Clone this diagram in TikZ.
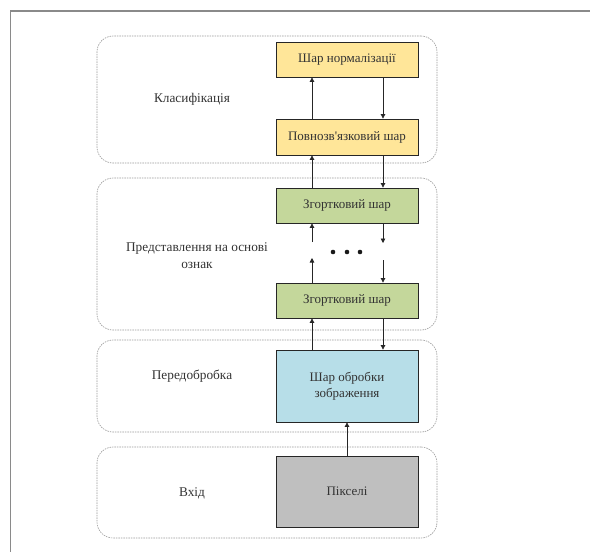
\documentclass[tikz,border=0pt]{standalone}
\usepackage{fontspec}
\setmainfont{Liberation Serif}
\usetikzlibrary{arrows.meta}
\definecolor{yel}{HTML}{FFE699}
\definecolor{grn}{HTML}{C4D79B}
\definecolor{blu}{HTML}{B7DEE8}
\definecolor{gry}{HTML}{BFBFBF}
\definecolor{txt}{HTML}{333333}
\definecolor{frame}{HTML}{8A8A8A}
\definecolor{grp}{HTML}{9A9A9A}
\tikzset{
  layerbox/.style={draw=black!85, line width=0.8pt, minimum width=142pt, text=txt, align=center, font=\fontsize{13}{16}\selectfont, inner sep=2pt},
  groupbox/.style={draw=grp, line width=0.6pt, dash pattern=on 1.5pt off 1pt, rounded corners=16pt, minimum width=340pt},
  grplabel/.style={text=txt, align=center, font=\fontsize{13.3}{17}\selectfont},
  arr/.style={draw=black!85, line width=0.7pt, -{Triangle[length=4.5pt,width=4.5pt]}},
}
\begin{document}
\begin{tikzpicture}[x=1pt,y=-1pt]
\useasboundingbox (0,0) rectangle (590,552);
\fill[white] (0,0) rectangle (590,552);
% frame
\draw[frame, line width=1.6pt] (10.5,552) -- (10.5,11) -- (590,11);
% groups
\node[groupbox, minimum height=127pt] (g1) at (267,99.5) {};
\node[groupbox, minimum height=152pt] (g2) at (267,254) {};
\node[groupbox, minimum height=92pt] (g3) at (267,386) {};
\node[groupbox, minimum height=91pt] (g4) at (267,492.5) {};
% labels
\node[grplabel] (l1) at (192,99) {Класифікація};
\node[grplabel] (l2) at (197,256) {Представлення на основі\\ознак};
\node[grplabel] (l3) at (192,376) {Передобробка};
\node[grplabel] (l4) at (192,493) {Вхід};
% layers
\node[layerbox, fill=yel, minimum height=35pt] (norm) at (347,59.5) {Шар нормалізації};
\node[layerbox, fill=yel, minimum height=36pt] (fc) at (347,137) {Повнозв\textquotesingle язковий шар};
\node[layerbox, fill=grn, minimum height=35pt] (cv1) at (347,205.5) {Згортковий шар};
\node[layerbox, fill=grn, minimum height=35pt] (cv2) at (347,300.5) {Згортковий шар};
\node[layerbox, fill=blu, minimum height=72pt] (pre) at (347,386) {Шар обробки\\зображення};
\node[layerbox, fill=gry, minimum height=71pt] (pix) at (347,491.5) {Пікселі};
% helper coordinates
\coordinate (ux) at (312,0);
\coordinate (dx) at (383,0);
\coordinate (u1) at (312,242);
\coordinate (u2) at (312,258);
\coordinate (d1) at (383,243);
\coordinate (d2) at (383,260);
% arrows
\draw[arr] (fc.north -| ux) -- (norm.south -| ux);
\draw[arr] (norm.south -| dx) -- (fc.north -| dx);
\draw[arr] (cv1.north -| ux) -- (fc.south -| ux);
\draw[arr] (fc.south -| dx) -- (cv1.north -| dx);
\draw[arr] (u1) -- (cv1.south -| ux);
\draw[arr] (cv2.north -| ux) -- (u2);
\draw[arr] (cv1.south -| dx) -- (d1);
\draw[arr] (d2) -- (cv2.north -| dx);
\draw[arr] (pre.north -| ux) -- (cv2.south -| ux);
\draw[arr] (cv2.south -| dx) -- (pre.north -| dx);
\draw[arr] (pix) -- (pre);
% dots
\fill[black!90] (333,252) circle (2.3pt) (347,252) circle (2.3pt) (360,252) circle (2.3pt);
\end{tikzpicture}
\end{document}
